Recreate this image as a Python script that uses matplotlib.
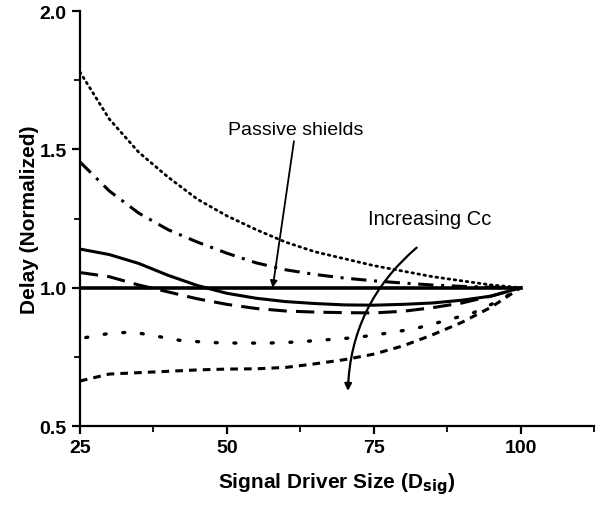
import matplotlib
matplotlib.use("Agg")
import matplotlib.pyplot as plt
from matplotlib.ticker import MultipleLocator

plt.rcParams["font.family"] = ["Liberation Sans", "DejaVu Sans"]

# driver sizes sampled for each curve
x_grid = [25, 30, 35, 40, 45, 50, 55, 60, 65, 70, 75, 80, 85, 90, 95, 100]

delay_dotted = [1.78, 1.61, 1.49, 1.40, 1.32, 1.26, 1.21, 1.165, 1.13, 1.105, 1.08,
                1.06, 1.04, 1.025, 1.01, 1.0]
delay_dashdot = [1.455, 1.35, 1.27, 1.21, 1.165, 1.125, 1.09, 1.065, 1.048, 1.035,
                 1.025, 1.017, 1.01, 1.005, 1.002, 1.0]
delay_solid = [1.14, 1.12, 1.088, 1.045, 1.008, 0.98, 0.962, 0.95, 0.943, 0.938,
               0.937, 0.94, 0.945, 0.955, 0.97, 1.0]
delay_dashed = [1.055, 1.04, 1.01, 0.985, 0.96, 0.94, 0.925, 0.916, 0.912, 0.91,
                0.909, 0.915, 0.928, 0.945, 0.97, 1.0]
x_sparse = [26, 30, 34, 38, 42, 47, 52, 57, 62, 67, 72, 77, 82, 87, 92, 96, 100]
delay_sparse = [0.82, 0.835, 0.84, 0.825, 0.81, 0.802, 0.80, 0.80, 0.804, 0.812,
                0.82, 0.835, 0.852, 0.88, 0.91, 0.95, 1.0]
delay_short = [0.663, 0.688, 0.693, 0.698, 0.703, 0.706, 0.707, 0.712, 0.725,
               0.74, 0.76, 0.79, 0.83, 0.875, 0.93, 1.0]
shield_x = [25, 100]
shield_y = [1.0, 1.0]

fig = plt.figure(figsize=(6.10, 5.06), dpi=100)
ax = fig.add_axes([0.131, 0.156, 0.843, 0.820])

ax.plot(x_grid, delay_dotted, color="black", lw=2, linestyle=(0, (0.6, 1.6)),
        dash_capstyle="round")
ax.plot(x_grid, delay_dashdot, color="black", lw=2.2, linestyle=(0, (5, 2.5, 1, 2.5)))
ax.plot(x_grid, delay_solid, color="black", lw=2.2)
ax.plot(x_grid, delay_dashed, color="black", lw=2.2, linestyle=(0, (6, 3)))
ax.plot(x_sparse, delay_sparse, color="black", lw=2.4, linestyle=(0, (0.6, 5)),
        dash_capstyle="round")
ax.plot(x_grid, delay_short, color="black", lw=2.2, linestyle=(0, (2.5, 2)))
ax.plot(shield_x, shield_y, color="black", lw=2.6)

ax.annotate("Passive shields", xy=(57.8, 1.0), xytext=(61.7, 1.54),
            fontsize=14, ha="center", va="bottom",
            arrowprops=dict(arrowstyle="-|>", color="black", lw=1.3,
                            shrinkA=0, shrinkB=0, mutation_scale=10))
ax.text(84.5, 1.215, "Increasing Cc", fontsize=14.5, ha="center", va="bottom")
ax.annotate("", xy=(70.6, 0.627), xytext=(82.3, 1.145),
            arrowprops=dict(arrowstyle="-|>", color="black", lw=1.6,
                            shrinkA=0, shrinkB=0, mutation_scale=10,
                            connectionstyle="arc3,rad=0.22"))

ax.set_xlim(25, 112.5)
ax.set_ylim(0.5, 2.0)
ax.set_xticks([25, 50, 75, 100])
ax.set_yticks([0.5, 1.0, 1.5, 2.0])
ax.xaxis.set_minor_locator(MultipleLocator(12.5))
ax.yaxis.set_minor_locator(MultipleLocator(0.25))
ax.spines["top"].set_visible(False)
ax.spines["right"].set_visible(False)
for s in ["left", "bottom"]:
    ax.spines[s].set_linewidth(1.6)
ax.tick_params(which="major", length=6, width=1.6, direction="out",
               labelsize=14)
ax.tick_params(which="minor", length=4, width=1.3, direction="out")
for lab in ax.get_xticklabels() + ax.get_yticklabels():
    lab.set_fontweight("bold")

ax.set_xlabel(r"Signal Driver Size (D$_\mathbf{sig}$)", fontsize=15,
              fontweight="bold", labelpad=10)
ax.set_ylabel("Delay (Normalized)", fontsize=15, fontweight="bold", labelpad=0)

fig.savefig("out.png", dpi=100)
